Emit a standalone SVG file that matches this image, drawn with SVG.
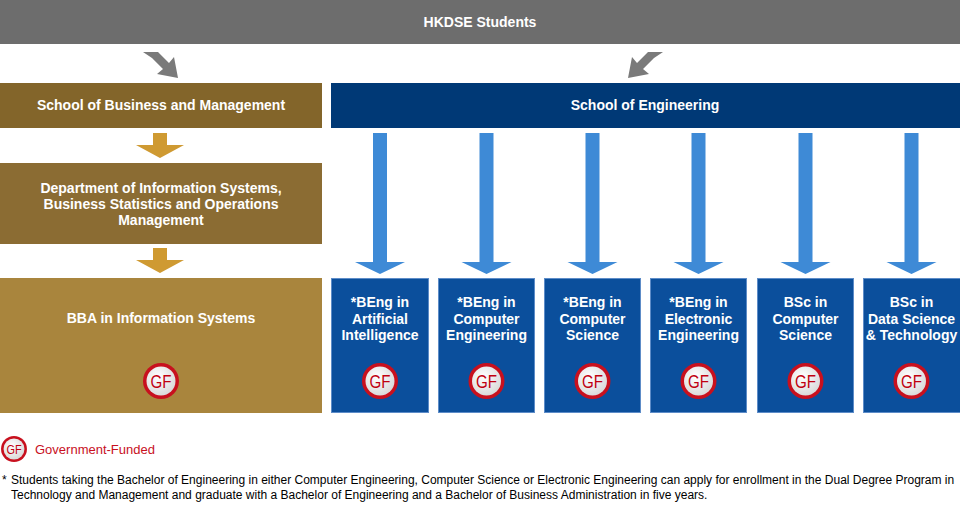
<svg xmlns="http://www.w3.org/2000/svg" width="960" height="510" viewBox="0 0 960 510">
<defs>
<style>
text{font-family:"Liberation Sans",Arial,sans-serif;font-weight:bold;fill:#fff;text-anchor:middle}
.t{font-size:14px}
.b{fill:#0b4f9c;stroke:#5d8cc8;stroke-width:1}
.n{font-weight:normal;text-anchor:start;fill:#000;font-size:12px}
</style>
<radialGradient id="g" cx="0.4" cy="0.35" r="0.7"><stop offset="0" stop-color="#fff"/><stop offset="1" stop-color="#d8d8d8"/></radialGradient>
<g id="gf"><circle r="18" fill="#c8101e"/><circle r="14.5" fill="url(#g)"/><text y="6.5" textLength="21" lengthAdjust="spacingAndGlyphs" style="fill:#c00010;font-weight:normal;font-size:19px">GF</text></g>
<path id="ba" d="M-7,0 H7 V129 H25 L0,141 L-25,129 H-7 Z" fill="#3e8ad6"/>
<path id="ga" d="M-7,0 H7 V12 H24 L0,25 L-24,12 H-7 Z" fill="#cf9a32"/>
</defs>
<g id="top"><rect x="0" y="0" width="960" height="44" fill="#6d6d6d"/><text class="t" x="480" y="27">HKDSE Students</text></g>
<g id="connectors">
<path d="M143,52 L158,52 L169,63 L174,57 L178,78 L157,74 L163,69 L152,58 Z" fill="#7a7a7a"/>
<path d="M663,52 L648,52 L637,63 L632,57 L628,78 L649,74 L643,69 L654,58 Z" fill="#7a7a7a"/>
<use href="#ga" x="160" y="133"/>
<use href="#ga" x="160" y="248"/>
<use href="#ba" x="380" y="133"/>
<use href="#ba" x="486.5" y="133"/>
<use href="#ba" x="592.5" y="133"/>
<use href="#ba" x="698.5" y="133"/>
<use href="#ba" x="805.5" y="133"/>
<use href="#ba" x="911.5" y="133"/>
</g>
<g id="sbm"><rect x="0" y="83" width="322" height="45" fill="#83652a"/><text class="t" x="161" y="110">School of Business and Management</text></g>
<g id="se"><rect x="331" y="83" width="629" height="45" fill="#003976"/><text class="t" x="645" y="110">School of Engineering</text></g>
<g id="dept"><rect x="0" y="163" width="322" height="81" fill="#8b6c33"/><text class="t" x="161" y="193">Department of Information Systems,</text><text class="t" x="161" y="209">Business Statistics and Operations</text><text class="t" x="161" y="225">Management</text></g>
<g id="bba"><rect x="0" y="278" width="322" height="135" fill="#a9853d"/><text class="t" x="161" y="323">BBA in Information Systems</text><use href="#gf" x="161" y="381"/></g>
<g id="ai"><rect class="b" x="331.5" y="278.5" width="97" height="134"/><text class="t" x="380" y="307">*BEng in</text><text class="t" x="380" y="324">Artificial</text><text class="t" x="380" y="340">Intelligence</text><use href="#gf" x="380" y="381"/></g>
<g id="ce"><rect class="b" x="438.5" y="278.5" width="96" height="134"/><text class="t" x="486.5" y="307">*BEng in</text><text class="t" x="486.5" y="324">Computer</text><text class="t" x="486.5" y="340">Engineering</text><use href="#gf" x="486.5" y="381"/></g>
<g id="cs"><rect class="b" x="544.5" y="278.5" width="96" height="134"/><text class="t" x="592.5" y="307">*BEng in</text><text class="t" x="592.5" y="324">Computer</text><text class="t" x="592.5" y="340">Science</text><use href="#gf" x="592.5" y="381"/></g>
<g id="ee"><rect class="b" x="650.5" y="278.5" width="96" height="134"/><text class="t" x="698.5" y="307">*BEng in</text><text class="t" x="698.5" y="324">Electronic</text><text class="t" x="698.5" y="340">Engineering</text><use href="#gf" x="698.5" y="381"/></g>
<g id="bcs"><rect class="b" x="757.5" y="278.5" width="96" height="134"/><text class="t" x="805.5" y="307">BSc in</text><text class="t" x="805.5" y="324">Computer</text><text class="t" x="805.5" y="340">Science</text><use href="#gf" x="805.5" y="381"/></g>
<g id="ds"><rect class="b" x="863.5" y="278.5" width="97" height="134"/><text class="t" x="911.5" y="307">BSc in</text><text class="t" x="911.5" y="324">Data Science</text><text class="t" x="911.5" y="340">&amp; Technology</text><use href="#gf" x="911.5" y="381"/></g>
<g id="legend"><use href="#gf" transform="translate(14,449) scale(0.72)"/><text x="35" y="454" style="fill:#c8101e;font-weight:normal;font-size:13px;text-anchor:start">Government-Funded</text></g>
<g id="note"><text class="n" x="2" y="484">*</text><text class="n" x="11" y="484">Students taking the Bachelor of Engineering in either Computer Engineering, Computer Science or Electronic Engineering can apply for enrollment in the Dual Degree Program in</text><text class="n" x="11" y="499">Technology and Management and graduate with a Bachelor of Engineering and a Bachelor of Business Administration in five years.</text></g>
</svg>
